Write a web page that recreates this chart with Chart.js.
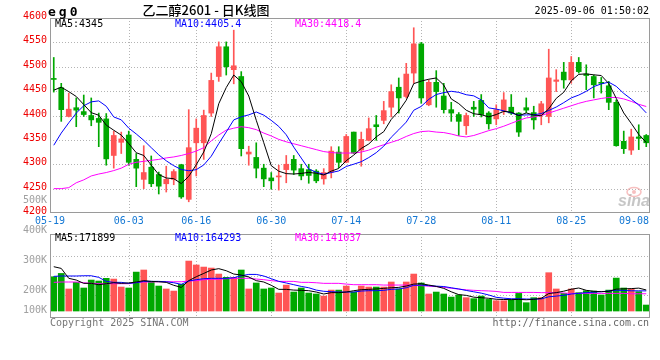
<!DOCTYPE html>
<html><head><meta charset="utf-8">
<script src="https://cdn.jsdelivr.net/npm/chart.js"></script>
<style>
html,body{margin:0;padding:0;background:#fff;}
#wrap{position:relative;width:660px;height:360px;background:#fff;}
canvas{position:absolute;left:0;top:0;}
</style></head><body>
<div id="wrap"><canvas id="vol" width="660" height="360"></canvas><canvas id="price" width="660" height="360"></canvas></div>
<script>
// ---------- data ----------
const dates = [
 '05-19','05-20','05-21','05-22','05-23','05-26','05-27','05-28','05-29','05-30',
 '06-03','06-04','06-05','06-06','06-09','06-10','06-11','06-12','06-13',
 '06-16','06-17','06-18','06-19','06-20','06-23','06-24','06-25','06-26','06-27',
 '06-30','07-01','07-02','07-03','07-04','07-07','07-08','07-09','07-10','07-11',
 '07-14','07-15','07-16','07-17','07-18','07-21','07-22','07-23','07-24','07-25',
 '07-28','07-29','07-30','07-31','08-01','08-04','08-05','08-06','08-07','08-08',
 '08-11','08-12','08-13','08-14','08-15','08-18','08-19','08-20','08-21','08-22',
 '08-25','08-26','08-27','08-28','08-29','09-01','09-02','09-03','09-04','09-05',
 '09-08'];
const xTickLabels = ['05-19','06-03','06-16','06-30','07-14','07-28','08-11','08-25','09-08'];
const priceTicks = [4600,4550,4500,4450,4400,4350,4300,4250,4200];
const volTickLabels = ['500K','400K','300K','200K','100K'];
const volGridK = [130,290,450];

const open = [4476,4457,4398,4416,4408,4400,4394,4393,4318,4345,
 4360,4310,4269,4294,4279,4260,4269,4299,4228,4344,
 4344,4405,4480,4541,4494,4480,4321,4314,4292,4272,
 4274,4289,4310,4291,4289,4286,4270,4284,4325,4304,
 4366,4329,4349,4381,4390,4417,4458,4439,4487,4547,
 4422,4468,4440,4412,4402,4379,4417,4431,4405,4393,
 4409,4417,4405,4416,4406,4402,4398,4470,4489,4473,
 4509,4485,4480,4467,4461,4427,4347,4329,4356,4359];
const high = [4519,4466,4446,4436,4442,4436,4405,4404,4368,4366,
 4368,4322,4338,4317,4284,4296,4289,4300,4412,4393,
 4411,4487,4551,4551,4575,4490,4337,4344,4300,4283,
 4298,4318,4318,4300,4300,4289,4291,4336,4336,4361,
 4366,4366,4395,4400,4429,4463,4477,4507,4580,4550,
 4473,4492,4466,4427,4406,4405,4429,4443,4408,4422,
 4447,4443,4406,4436,4419,4429,4536,4494,4509,4521,
 4519,4504,4483,4478,4470,4432,4368,4372,4381,4361];
const low = [4448,4388,4397,4377,4398,4379,4336,4298,4292,4322,
 4298,4254,4250,4254,4239,4243,4258,4230,4223,4276,
 4310,4398,4470,4483,4465,4317,4298,4272,4254,4249,
 4247,4262,4279,4268,4261,4262,4259,4272,4293,4303,
 4322,4296,4348,4349,4383,4397,4405,4436,4466,4425,
 4420,4417,4405,4388,4359,4361,4398,4397,4372,4381,
 4402,4402,4357,4406,4372,4381,4385,4449,4456,4466,
 4487,4453,4436,4446,4412,4337,4322,4320,4330,4336];
const close = [4474,4412,4413,4411,4402,4391,4386,4311,4359,4352,
 4304,4292,4283,4260,4255,4269,4285,4233,4334,4374,
 4400,4472,4541,4500,4502,4332,4325,4292,4270,4266,
 4276,4300,4288,4276,4277,4266,4283,4327,4304,4357,
 4323,4351,4373,4377,4410,4449,4436,4485,4547,4436,
 4468,4449,4412,4405,4388,4400,4413,4402,4383,4412,
 4432,4405,4366,4411,4391,4424,4477,4473,4473,4509,
 4490,4482,4463,4466,4427,4338,4332,4356,4353,4344];

const ma5 = [4452,4458,4449,4439,4422.4,4405.8,4400.6,4380.2,4369.8,4359.8,
 4342.4,4323.6,4318,4298.2,4278.8,4271.8,4270.4,4260.4,4275.2,4299,
 4325.2,4362.6,4424.2,4457.4,4483,4469.4,4440,4390.2,4344.2,4297,
 4285.8,4280.8,4280,4281.2,4283.4,4281.4,4278,4285.8,4291.4,4307.4,
 4318.8,4332.4,4341.6,4356.2,4366.8,4392,4409,4431.4,4465.4,4470.6,
 4474.4,4477,4462.4,4434,4424.4,4410.8,4403.6,4401.6,4397.2,4402,
 4408.4,4406.8,4399.6,4405.2,4401,4399.4,4413.8,4435.2,4447.6,4471.2,
 4484.4,4485.4,4483.4,4482,4465.6,4435.2,4405.2,4383.8,4361.2,4344.6];
const ma10 = [4339,4364,4385,4405,4420,4428,4430,4419,4397,4391.1,
 4374.1,4362.1,4349.1,4334,4319.3,4307.1,4297,4289.2,4286.7,4288.9,
 4298.5,4316.5,4342.3,4366.3,4391,4397.3,4401.3,4407.2,4400.8,4390,
 4377.6,4360.4,4335.1,4312.7,4290.2,4283.6,4279.4,4282.9,4286.3,4295.4,
 4300.1,4305.2,4313.7,4323.8,4337.1,4355.4,4370.7,4386.5,4410.8,4418.7,
 4433.2,4443,4446.9,4449.7,4447.5,4442.6,4440.3,4432,4415.6,4413.2,
 4409.6,4405.2,4400.6,4401.2,4401.5,4403.9,4410.3,4417.4,4426.4,4436.1,
 4441.9,4449.6,4459.3,4464.8,4468.4,4459.8,4445.3,4433.6,4421.6,4405.4];
const ma30 = [4250,4250,4252,4262,4268,4276,4280,4283,4287,4292,
 4300,4304,4306,4308,4310,4313,4315,4318,4322,4327,
 4334,4348,4360,4370,4374,4377,4375,4371,4364,4358,
 4351,4346,4342,4338,4334,4330,4326,4324,4323,4323,
 4323,4325,4329,4335,4340,4345,4350,4357,4363,4367,
 4368,4366,4365,4362,4358,4356,4359,4364,4369,4373,
 4378,4384,4390,4395,4397,4400,4405,4410,4415,4420,
 4425,4429,4432,4435,4437,4437,4434,4429,4423,4418.4];

// volume in thousands
const volumeK = [280,307,180,234,188,253,245,267,261,196,
 188,318,335,234,204,180,163,218,408,376,
 359,351,302,275,275,335,180,229,180,188,
 147,212,155,188,147,139,122,171,171,204,
 155,204,196,196,196,237,180,237,302,229,
 139,155,139,114,131,109,101,122,95,84,
 84,90,144,68,109,109,313,180,144,180,
 150,166,163,131,171,269,188,180,158,49];
const volMa5K = [362,348,267,253,226,226,215,223,231,226,
 229,237,248,242,239,234,210,193,248,280,
 307,335,346,329,302,294,278,248,237,210,
 177,177,171,169,166,155,139,150,150,155,
 166,174,177,180,185,190,193,204,220,223,
 212,201,185,157,134,128,113,109,104,96,
 94,93,95,92,95,104,143,150,162,178,
 188,169,161,158,161,179,181,183,187,171.9];
const volMa10K = [283,286,286,286,288,288,275,242,234,234,
 226,231,242,242,242,239,231,218,245,256,
 264,267,267,267,272,288,299,299,286,264,
 242,229,215,201,190,171,161,158,155,155,
 155,163,166,166,169,177,180,190,210,212,
 207,203,200,190,180,168,157,146,131,112,
 105,100,100,98,97,99,116,122,128,139,
 144,150,154,158,163,170,168,165,165,164.3];
const volMa30K = [234,237,237,237,231,226,223,223,223,223,
 223,234,237,237,239,239,239,239,245,248,
 256,259,259,264,267,267,267,261,256,248,
 242,242,242,234,234,231,226,226,226,220,
 215,215,215,215,212,212,212,212,210,207,
 203,199,193,186,179,173,169,166,164,160,
 152,152,152,152,152,150,150,150,147,144,
 144,144,144,144,144,144,144,141,141,141];

const titleCode = 'eg0';
const titleName = '乙二醇2601 - 日K线图';
const stampText = '2025-09-06 01:50:02';
const priceLegend = [['MA5:4345','#000000'],['MA10:4405.4','#0000ff'],['MA30:4418.4','#ff00ff']];
const volLegend = [['MA5:171899','#000000'],['MA10:164293','#0000ff'],['MA30:141037','#ff00ff']];

// ---------- styling ----------
const UP = '#ff5555', DOWN = '#00a800';
const candleColor = close.map((c,i)=> c > open[i] ? UP : DOWN);
const MONO = '"DejaVu Sans Mono", "Liberation Mono", monospace';
const GRID = '#b4b4b4', BORDER = '#9a9a9a';

function hLine(ctx,x1,x2,y){ctx.beginPath();ctx.moveTo(x1,y);ctx.lineTo(x2,y);ctx.stroke();}
function vLine(ctx,x,y1,y2){ctx.beginPath();ctx.moveTo(x,y1);ctx.lineTo(x,y2);ctx.stroke();}
function drawVGrid(ctx, x, a){
  xTickLabels.forEach(lab=>{
    const i = dates.indexOf(lab);
    if (i <= 0 || i >= dates.length-1) return;
    const px = Math.round(x.getPixelForValue(i)) + 0.5;
    vLine(ctx, px, a.top, a.bottom);
  });
}

const pricePanel = {
  id:'pricePanel',
  beforeDatasetsDraw(chart){
    const {ctx, chartArea:a, scales:{x,y}} = chart;
    ctx.save();
    ctx.strokeStyle = GRID; ctx.lineWidth = 1; ctx.setLineDash([1,2]);
    priceTicks.forEach(v=>{
      if (v <= y.min || v >= y.max) return;
      hLine(ctx, a.left, a.right, Math.round(y.getPixelForValue(v)) + 0.5);
    });
    drawVGrid(ctx, x, a);
    ctx.setLineDash([]);
    ctx.restore();
  },
  afterDraw(chart){
    const {ctx, chartArea:a, scales:{x,y}} = chart;
    ctx.save();
    ctx.strokeStyle = BORDER; ctx.lineWidth = 1;
    ctx.strokeRect(a.left+0.5, a.top+0.5, a.right-a.left-1, a.bottom-a.top-1);
    ctx.textBaseline = 'middle';
    ctx.font = '10px ' + MONO;
    // price axis labels
    ctx.fillStyle = '#ee0000'; ctx.textAlign = 'right';
    priceTicks.forEach(v=> ctx.fillText(String(v), a.left - 3, y.getPixelForValue(v) - 1.5));
    // MA legend
    ctx.textAlign = 'left';
    priceLegend.forEach((l,k)=>{ ctx.fillStyle = l[1]; ctx.fillText(l[0], a.left + 5 + k*120, a.top + 6.5); });
    // x labels
    ctx.fillStyle = '#1478d4';
    xTickLabels.forEach(lab=>{
      const i = dates.indexOf(lab);
      let px = x.getPixelForValue(i);
      if (i === 0) { ctx.textAlign = 'center'; px = a.left; }
      else if (i === dates.length-1) { ctx.textAlign = 'right'; px = a.right - 1; }
      else ctx.textAlign = 'center';
      ctx.fillText(lab, px, a.bottom + 8);
    });
    // titles
    ctx.fillStyle = '#000';
    ctx.textAlign = 'left'; ctx.textBaseline = 'alphabetic';
    ctx.font = 'bold 13px ' + MONO;
    try { ctx.letterSpacing = '3px'; } catch(e) {}
    ctx.fillText(titleCode, 48, 16);
    try { ctx.letterSpacing = '0px'; } catch(e) {}
    ctx.textBaseline = 'middle'; ctx.textAlign = 'center';
    ctx.font = '500 13px "Noto Sans CJK SC", sans-serif';
    ctx.fillText(titleName, 206, 10.5);
    ctx.textAlign = 'right'; ctx.font = '10px ' + MONO;
    ctx.fillText(stampText, 649, 11.5);
    // watermark
    ctx.strokeStyle = 'rgba(240,140,140,0.55)'; ctx.lineWidth = 1.5;
    ctx.beginPath(); ctx.ellipse(634, 192, 7, 4.5, 0, 0, Math.PI*2); ctx.stroke();
    ctx.fillStyle = 'rgba(240,140,140,0.55)';
    ctx.beginPath(); ctx.arc(634, 192, 2, 0, Math.PI*2); ctx.fill();
    ctx.fillStyle = 'rgba(160,160,160,0.6)'; ctx.textAlign = 'left'; ctx.textBaseline = 'alphabetic';
    ctx.font = 'italic bold 16px "Liberation Sans", sans-serif';
    ctx.fillText('sina', 618, 206);
    ctx.restore();
  }
};

const volPanel = {
  id:'volPanel',
  beforeDatasetsDraw(chart){
    const {ctx, chartArea:a, scales:{x,y}} = chart;
    ctx.save();
    ctx.strokeStyle = GRID; ctx.lineWidth = 1; ctx.setLineDash([1,2]);
    volGridK.forEach(v=> hLine(ctx, a.left, a.right, Math.round(y.getPixelForValue(v)) + 0.5));
    drawVGrid(ctx, x, a);
    ctx.restore();
  },
  afterDraw(chart){
    const {ctx, chartArea:a} = chart;
    ctx.save();
    ctx.strokeStyle = BORDER; ctx.lineWidth = 1;
    ctx.strokeRect(a.left+0.5, a.top+0.5, a.right-a.left-1, a.bottom-a.top-1);
    ctx.font = '10px ' + MONO; ctx.textBaseline = 'middle';
    ctx.textAlign = 'left';
    volLegend.forEach((l,k)=>{ ctx.fillStyle = l[1]; ctx.fillText(l[0], a.left + 5 + k*120, a.top + 4.5); });
    // volume axis labels (placed as in the original)
    const labelY = [200.5, 230.5, 260.7, 290.7, 310];
    ctx.fillStyle = '#a0a0a0'; ctx.textAlign = 'right';
    volTickLabels.forEach((t,k)=> ctx.fillText(t, a.left - 3, labelY[k]));
    // footer
    ctx.fillStyle = '#777'; ctx.textAlign = 'left';
    ctx.fillText('Copyright 2025 SINA.COM', a.left, a.bottom + 5.5);
    ctx.fillStyle = '#666'; ctx.textAlign = 'right';
    ctx.fillText('http://finance.sina.com.cn', a.right - 1, a.bottom + 5.5);
    ctx.restore();
  }
};

const lineDs = (data, color) => ({type:'line', data, borderColor:color, borderWidth:1,
  pointRadius:0, tension:0, fill:false, order:0});

new Chart(document.getElementById('price'), {
  type:'bar',
  data:{ labels: dates, datasets:[
    lineDs(ma5,'#000000'), lineDs(ma10,'#0000ff'), lineDs(ma30,'#ff00ff'),
    { data: open.map((o,i)=>[o, close[i]]), backgroundColor: candleColor,
      barThickness:5, minBarLength:1, grouped:false, order:5 },
    { data: low.map((l,i)=>[l, high[i]]), backgroundColor: candleColor,
      barThickness:1, minBarLength:1, grouped:false, order:6 }
  ]},
  options:{ responsive:false, animation:false, devicePixelRatio:1,
    layout:{ padding:{ left:50, right:10, top:18, bottom:147 } },
    plugins:{ legend:{display:false}, tooltip:{enabled:false} },
    scales:{ x:{ display:false, offset:true }, y:{ display:false, min:4200, max:4600 } } },
  plugins:[pricePanel]
});

new Chart(document.getElementById('vol'), {
  type:'bar',
  data:{ labels: dates, datasets:[
    lineDs(volMa5K,'#000000'), lineDs(volMa10K,'#0000ff'), lineDs(volMa30K,'#ff00ff'),
    { data: volumeK, backgroundColor: candleColor, barThickness:6, order:5 }
  ]},
  options:{ responsive:false, animation:false, devicePixelRatio:1,
    layout:{ padding:{ left:50, right:10, top:234, bottom:42 } },
    plugins:{ legend:{display:false}, tooltip:{enabled:false} },
    scales:{ x:{ display:false, offset:true }, y:{ display:false, min:-57, max:629 } } },
  plugins:[volPanel]
});
</script>
</body></html>
